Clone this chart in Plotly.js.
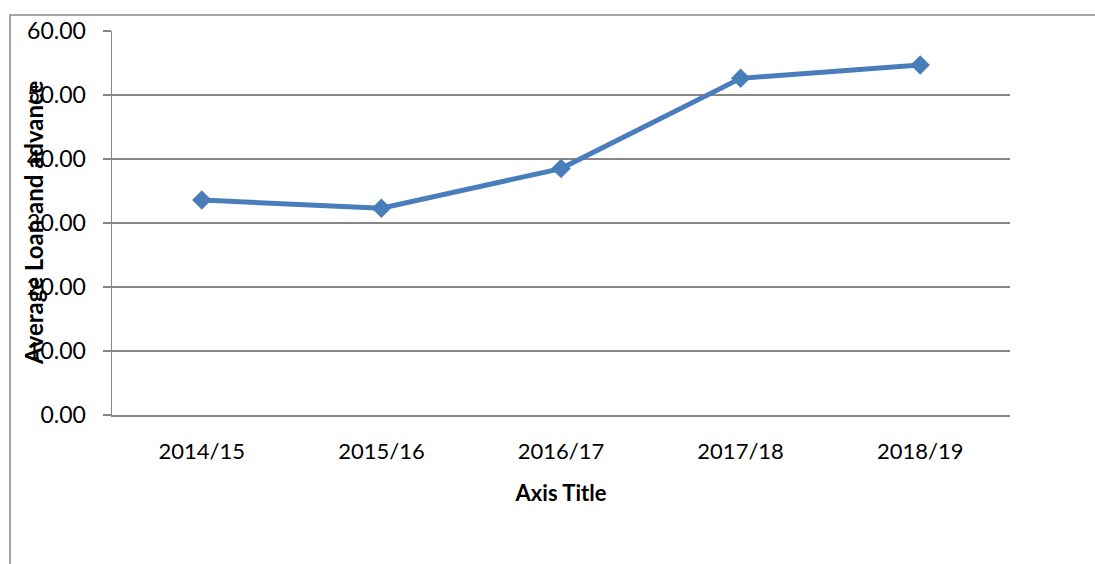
<!DOCTYPE html>
<html>
<head>
<meta charset="utf-8">
<script src="https://cdn.plot.ly/plotly-3.0.1.min.js"></script>
<style>html,body{margin:0;padding:0;background:#fff;}#chart{width:1095px;height:564px;}</style>
</head>
<body>
<div id="chart"></div>
<script>
const categories = ["2014/15", "2015/16", "2016/17", "2017/18", "2018/19"];
const averageLoan = [33.6, 32.3, 38.5, 52.6, 54.7];
const yTickValues = [0, 10, 20, 30, 40, 50, 60];
const yTickLabels = ["0.00", "10.00", "20.00", "30.00", "40.00", "50.00", "60.00"];
const xTitle = "Axis Title";
const yTitle = "Average Loan and advance";

const grey = "#868686";
const trace = {
  x: categories,
  y: averageLoan,
  type: "scatter",
  mode: "lines+markers",
  line: {color: "#4a7ebb", width: 5},
  marker: {symbol: "diamond", size: 15, color: "#4a7ebb"},
  hoverinfo: "x+y"
};

const layout = {
  width: 1095, height: 564,
  margin: {l: 112, r: 85, t: 31, b: 149},
  paper_bgcolor: "#fff", plot_bgcolor: "#fff",
  showlegend: false,
  font: {family: "Lato, 'Open Sans', sans-serif", color: "#000", size: 22},
  xaxis: {
    type: "category",
    range: [-0.5, 4.5],
    showgrid: false,
    showline: true, linecolor: grey, linewidth: 1.5,
    ticks: "", ticklen: 0,
    tickfont: {size: 22},
    ticklabelstandoff: 16,
    title: {text: xTitle, font: {size: 22, family: "Lato, sans-serif", weight: "bold"}, standoff: 22},
    automargin: false,
    fixedrange: true
  },
  yaxis: {
    range: [0, 60],
    tickvals: yTickValues,
    ticktext: yTickLabels,
    showgrid: true, gridcolor: grey, gridwidth: 1.5,
    showline: true, linecolor: grey, linewidth: 1.5,
    ticks: "outside", ticklen: 8, tickcolor: grey, tickwidth: 1.5,
    tickfont: {size: 23},
    ticklabelstandoff: 12,
    zeroline: false,
    automargin: false,
    fixedrange: true
  },
  annotations: [{
    text: "<b>" + yTitle + "</b>",
    xref: "paper", yref: "paper",
    x: (33 - 112) / 898, y: 0.5,
    xanchor: "center", yanchor: "middle",
    textangle: -90, showarrow: false,
    font: {size: 24, family: "Lato, sans-serif", color: "#000"}
  }],
  shapes: [{
    type: "rect", xref: "paper", yref: "paper",
    x0: (10 - 112) / 898, x1: 1.3,
    y0: -1, y1: (415 - 15) / 384,
    line: {color: grey, width: 1.5},
    fillcolor: "rgba(0,0,0,0)",
    layer: "below"
  }]
};

Plotly.newPlot("chart", [trace], layout, {staticPlot: true, displayModeBar: false});
</script>
</body>
</html>
